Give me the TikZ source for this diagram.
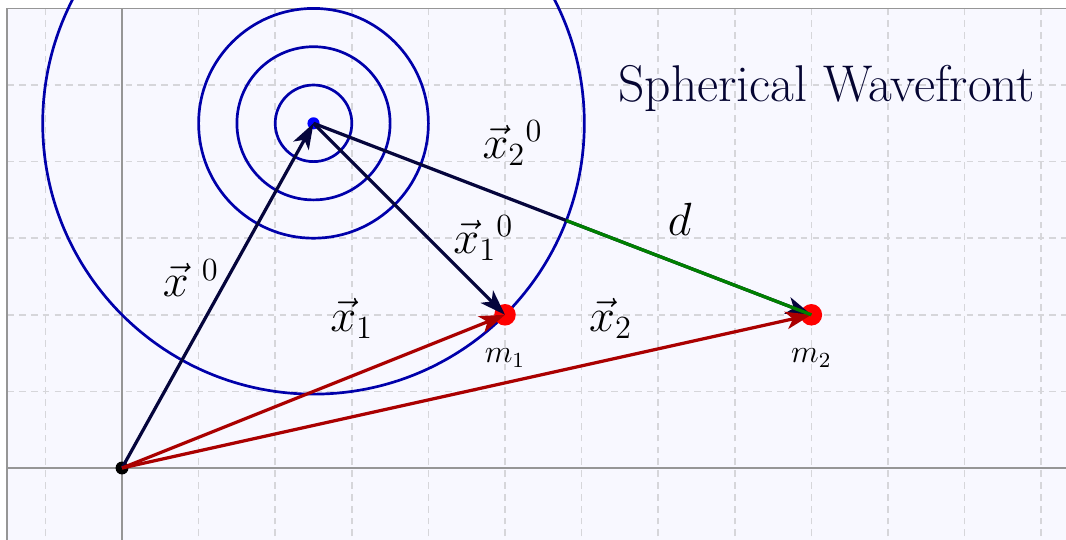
\documentclass[tikz,border=0pt]{standalone}
\usetikzlibrary{arrows.meta,calc}
\definecolor{bg}{RGB}{248,248,255}
\definecolor{gridc}{RGB}{214,214,218}
\definecolor{axisc}{RGB}{150,150,150}
\definecolor{wavec}{RGB}{0,0,170}
\definecolor{navyc}{RGB}{5,5,60}
\definecolor{redc}{RGB}{170,0,0}
\definecolor{greenc}{RGB}{0,128,0}
\definecolor{titlec}{RGB}{5,5,50}
\tikzset{
  gridline/.style={draw=gridc, line width=0.55pt, dash pattern=on 2.5pt off 1.9pt},
  axisline/.style={draw=axisc, line width=0.5pt},
  wave/.style={draw=wavec, line width=1pt},
  navyvec/.style={draw=navyc, line width=1.2pt, -{Stealth[length=9.5pt,width=6.5pt,inset=2.5pt]}},
  redvec/.style={draw=redc, line width=1.2pt, -{Stealth[length=9.5pt,width=6.5pt,inset=2.5pt]}},
  dline/.style={draw=greenc, line width=1.2pt},
  dot/.style={circle, inner sep=0pt, minimum size=#1},
  lbl/.style={font=\fontsize{17}{20}\selectfont, inner sep=1pt},
  mlbl/.style={font=\fontsize{11.5}{14}\selectfont, inner sep=1pt},
  titlenode/.style={font=\fontsize{19.2}{23}\selectfont, text=titlec, inner sep=1pt}
}
\begin{document}
\begin{tikzpicture}[x=1cm,y=1cm]
\useasboundingbox (-1.593,-0.940) rectangle (12.324,6.110);
\clip (-1.593,-0.940) rectangle (12.324,6.110);
\fill[bg] (-1.5,-1.2) rectangle (12.5,6);
% grid
\foreach \x in {-1,1,2,...,12} \draw[gridline] (\x,-1.2) -- (\x,6);
\foreach \y in {1,...,5} \draw[gridline] (-1.5,\y) -- (12.5,\y);
% axes and frame
\draw[axisline] (-1.5,0) -- (12.5,0);
\draw[axisline] (0,-1.2) -- (0,6);
\draw[axisline] (-1.5,-1.2) -- (-1.5,6) -- (12.5,6);
% wavefronts
\coordinate (Sc) at (2.5,4.5);
\draw[wave] (Sc) circle (0.5);
\draw[wave] (Sc) circle (1.0);
\draw[wave] (Sc) circle (1.5);
\draw[wave] (Sc) circle (3.5355);
% dots
\node[dot=8pt, fill=red] (m1) at (5,2) {};
\node[dot=8pt, fill=red] (m2) at (9,2) {};
\node[dot=4.8pt, fill=black] (O) at (0,0) {};
\node[dot=4.5pt, fill=blue] (S) at (2.5,4.5) {};
% vectors
\draw[navyvec] (O.center) -- (S.center);
\draw[navyvec] (S.center) -- (m1.center);
\draw[navyvec] (S.center) -- (m2.center);
\draw[redvec] (O.center) -- (m1.center);
\draw[redvec] (O.center) -- (m2.center);
\coordinate (P) at ($(S.center)!3.5355cm!(m2.center)$);
\draw[dline] (P) -- (m2.center);
% labels
\node[lbl] (lx0) at (0.9,2.48) {$\vec{x}\;{}^{0}$};
\node[lbl] (lx1) at (3.0,1.95) {$\vec{x}_1$};
\node[lbl] (lx10) at (4.72,3.0) {$\vec{x}_1{}^{0}$};
\node[lbl] (lx20) at (5.1,4.24) {$\vec{x}_2{}^{0}$};
\node[lbl] (lx2) at (6.38,1.95) {$\vec{x}_2$};
\node[lbl] (ld) at (7.28,3.25) {$d$};
\node[mlbl] (lm1) at (5,1.43) {$m_1$};
\node[mlbl] (lm2) at (9,1.43) {$m_2$};
\node[titlenode] (title) at (9.2,4.95) {Spherical Wavefront};
\end{tikzpicture}
\end{document}
